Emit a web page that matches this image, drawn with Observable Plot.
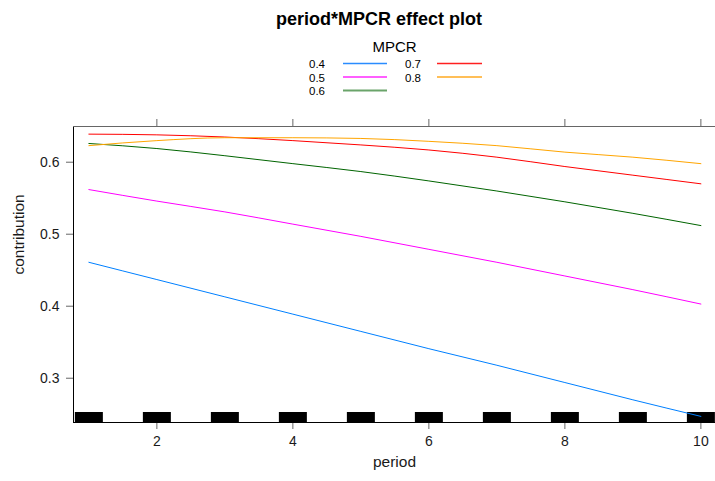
<!DOCTYPE html>
<html>
<head>
<meta charset="utf-8">
<script src="https://cdn.jsdelivr.net/npm/d3@7"></script>
<script src="https://cdn.jsdelivr.net/npm/@observablehq/plot@0.6"></script>
<style>
  html, body { margin: 0; padding: 0; background: white; }
  #wrap { width: 715px; height: 481px; overflow: hidden; font-family: "Liberation Sans", Arial, sans-serif; }
  #wrap svg { display: block; }
</style>
</head>
<body>
<div id="wrap"></div>
<script>
const periods = [1, 2, 3, 4, 5, 6, 7, 8, 9, 10];
const mpcrLevels = ["0.4", "0.5", "0.6", "0.7", "0.8"];
const mpcrColors = ["#0080ff", "#ff00ff", "#006400", "#ff0000", "#ffa500"];
const legendColors = ["#2a8cff", "#ff2aff", "#6aa46a", "#ff2020", "#ffaa20"];
const contrib04 = [0.461, 0.437, 0.413, 0.389, 0.365, 0.341, 0.318, 0.294, 0.270, 0.247];
const contrib05 = [0.562, 0.546, 0.531, 0.514, 0.497, 0.479, 0.461, 0.442, 0.423, 0.403];
const contrib06 = [0.626, 0.619, 0.609, 0.598, 0.587, 0.574, 0.560, 0.545, 0.529, 0.512];
const contrib07 = [0.639, 0.638, 0.635, 0.630, 0.624, 0.617, 0.607, 0.594, 0.582, 0.570];
const contrib08 = [0.623, 0.630, 0.634, 0.634, 0.633, 0.629, 0.623, 0.614, 0.607, 0.598];
const xTicks = [2, 4, 6, 8, 10];
const yTicks = [0.3, 0.4, 0.5, 0.6];
const xDomain = [0.774, 10.215];
const yDomain = [0.2385, 0.6496];

const series = [contrib04, contrib05, contrib06, contrib07, contrib08];
const rows = [];
series.forEach((vals, i) => {
  vals.forEach((v, j) => rows.push({period: periods[j], contribution: v, mpcr: mpcrLevels[i]}));
});

const wrap = document.getElementById("wrap");

// Header: title + legend
const header = d3.create("svg").attr("width", 715).attr("height", 100)
  .style("font-family", "'Liberation Sans', Arial, sans-serif");
header.append("text").attr("x", 379).attr("y", 25).attr("text-anchor", "middle")
  .attr("font-size", 18).attr("font-weight", "bold").attr("fill", "#000")
  .text("period*MPCR effect plot");
header.append("text").attr("x", 394.5).attr("y", 51.5).attr("text-anchor", "middle")
  .attr("font-size", 15).attr("fill", "#000").text("MPCR");
const colX = [{label: 309, l1: 343, l2: 387}, {label: 405, l1: 437, l2: 482}];
const rowY = [63.5, 77, 90.5];
mpcrLevels.forEach((lev, i) => {
  const c = i < 3 ? 0 : 1;
  const r = i < 3 ? i : i - 3;
  const g = header.append("g");
  g.append("text").attr("x", colX[c].label).attr("y", rowY[r] + 4.5)
    .attr("font-size", 11.5).attr("fill", "#000").text(lev);
  g.append("line").attr("x1", colX[c].l1).attr("x2", colX[c].l2)
    .attr("y1", rowY[r]).attr("y2", rowY[r])
    .attr("stroke", legendColors[i]).attr("stroke-width", i === 2 ? 2.2 : 1.6);
});
wrap.appendChild(header.node());

const chart = Plot.plot({
  width: 715,
  height: 381,
  marginTop: 26,
  marginBottom: 59,
  marginLeft: 73,
  marginRight: 0,
  style: {fontFamily: "'Liberation Sans', Arial, sans-serif", fontSize: "14px", color: "#1a1a1a", background: "white", overflow: "visible"},
  x: {domain: xDomain},
  y: {domain: yDomain},
  color: {domain: mpcrLevels, range: mpcrColors},
  marks: [
    Plot.tickX(periods, {x: d => d, stroke: "black", strokeWidth: 28, strokeOpacity: 1, insetTop: 286}),
    Plot.lineY(rows, {x: "period", y: "contribution", stroke: "mpcr", curve: "monotone-x", strokeWidth: 1}),
    Plot.axisX({anchor: "bottom", ticks: xTicks, tickSize: 7, tickPadding: 7, stroke: "#666", label: null, fontSize: 14}),
    Plot.axisX({anchor: "top", ticks: xTicks, tickSize: 8, tickFormat: () => "", stroke: "#666", label: null}),
    Plot.axisY({anchor: "left", ticks: yTicks, tickSize: 7, tickPadding: 7, stroke: "#666", tickFormat: d3.format(".1f"), label: null, fontSize: 14}),
    Plot.ruleX([xDomain[0]], {stroke: "black"}),
    Plot.ruleY([yDomain[0]], {stroke: "black"}),
    Plot.ruleY([yDomain[1]], {stroke: "#666"}),
    Plot.text(["period"], {frameAnchor: "bottom", dy: 44, fontSize: 15.5, fill: "#1a1a1a"}),
    Plot.text(["contribution"], {frameAnchor: "left", rotate: -90, dx: -54, fontSize: 15.5, fill: "#1a1a1a"})
  ]
});
wrap.appendChild(chart);
</script>
</body>
</html>
